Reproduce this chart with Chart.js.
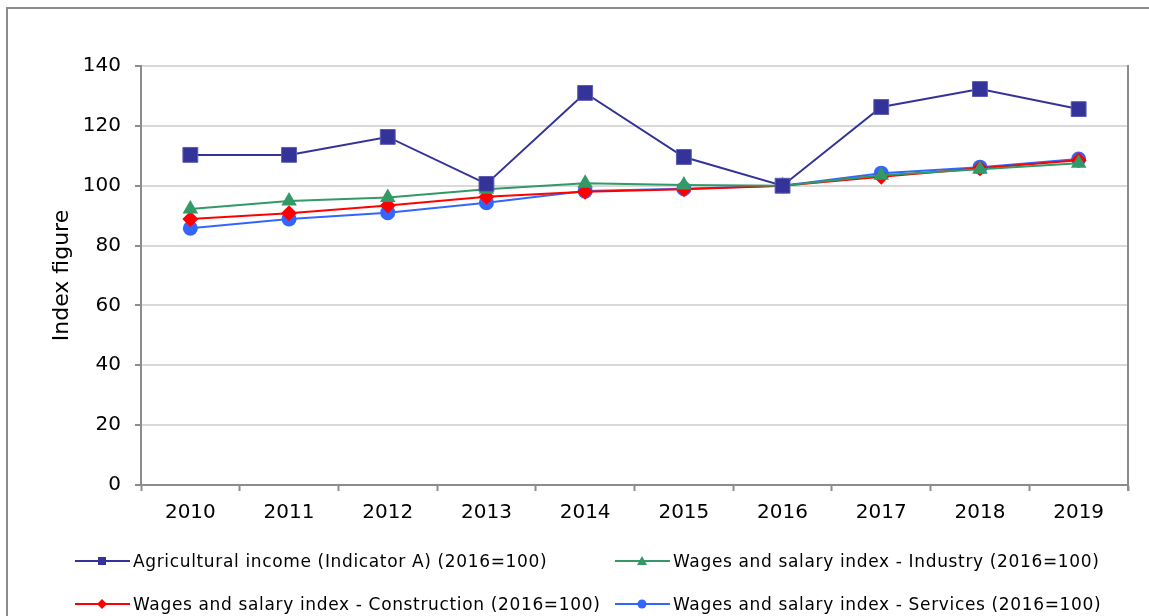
<!DOCTYPE html>
<html>
<head>
<meta charset="utf-8">
<script src="https://cdn.jsdelivr.net/npm/chart.js@4.4.1/dist/chart.umd.min.js"></script>
<style>
  html, body { margin: 0; padding: 0; background: #fff; overflow: hidden; }
  #wrap { position: relative; width: 1149px; height: 616px; overflow: hidden; }
  #frame { position: absolute; left: 6px; top: 7px; width: 1143px; height: 609px; border-top: 2px solid #8c8c8c; border-left: 2px solid #8c8c8c; box-sizing: border-box; }
  #c { position: absolute; left: 0; top: 0; }
  .leg { position: absolute; font-family: "DejaVu Sans", Verdana, sans-serif; font-size: 17px; letter-spacing: 0.65px; color: #000; white-space: nowrap; display: flex; align-items: center; }
  .leg svg { margin-right: 3px; }
</style>
</head>
<body>
<div id="wrap">
  <div id="frame"></div>
  <canvas id="c" width="1149" height="616"></canvas>
  <div id="legend"></div>
</div>
<script>
const categories = ["2010","2011","2012","2013","2014","2015","2016","2017","2018","2019"];
const agricultural = [110.3, 110.3, 116.3, 100.6, 131.0, 109.6, 100.0, 126.3, 132.3, 125.6];
const industry     = [92.2, 94.9, 96.1, 98.8, 100.8, 100.2, 100.0, 103.5, 105.5, 107.5];
const construction = [88.9, 90.8, 93.4, 96.3, 98.0, 98.8, 100.0, 103.0, 105.8, 108.5];
const services     = [85.8, 88.9, 91.0, 94.3, 98.2, 99.0, 100.0, 104.2, 106.2, 108.9];
const yTicks = [0, 20, 40, 60, 80, 100, 120, 140];
const seriesNames = [
  "Agricultural income (Indicator A) (2016=100)",
  "Wages and salary index - Industry (2016=100)",
  "Wages and salary index - Construction (2016=100)",
  "Wages and salary index - Services (2016=100)"
];

const FONT = '"DejaVu Sans", Verdana, sans-serif';

const rightBorder = {
  id: 'rightBorder',
  afterDraw(chart) {
    const {ctx, chartArea} = chart;
    ctx.save();
    ctx.strokeStyle = '#8c8c8c';
    ctx.lineWidth = 2;
    ctx.beginPath();
    ctx.moveTo(chartArea.right, chartArea.top - 1);
    ctx.lineTo(chartArea.right, chartArea.bottom + 6);
    ctx.stroke();
    ctx.restore();
  }
};

new Chart(document.getElementById('c'), {
  type: 'line',
  data: {
    labels: categories,
    datasets: [
      { label: seriesNames[0], data: agricultural, borderColor: '#333399', backgroundColor: '#333399', borderWidth: 2,
        pointStyle: 'rect', pointRadius: 10.5, pointBorderColor: '#5c5cb0', pointBorderWidth: 1, pointHoverRadius: 10.5 },
      { label: seriesNames[1], data: industry, borderColor: '#339966', backgroundColor: '#339966', borderWidth: 2,
        pointStyle: 'triangle', pointRadius: 9, pointBorderWidth: 0, pointHoverRadius: 9 },
      { label: seriesNames[2], data: construction, borderColor: '#ff0000', backgroundColor: '#ff0000', borderWidth: 2,
        pointStyle: 'rectRot', pointRadius: 8, pointBorderWidth: 0, pointHoverRadius: 8 },
      { label: seriesNames[3], data: services, borderColor: '#3366ff', backgroundColor: '#3366ff', borderWidth: 2,
        pointStyle: 'circle', pointRadius: 7.5, pointBorderWidth: 0, pointHoverRadius: 7.5 }
    ]
  },
  options: {
    responsive: false,
    animation: false,
    events: [],
    layout: { padding: { left: 0, right: 21, top: 66, bottom: 0 } },
    plugins: { legend: { display: false }, tooltip: { enabled: false } },
    elements: { line: { tension: 0 } },
    scales: {
      x: {
        type: 'category',
        offset: true,
        grid: { offset: true, drawOnChartArea: false, drawTicks: true, tickLength: 6, tickColor: '#8c8c8c', tickWidth: 2 },
        border: { color: '#8c8c8c', width: 2 },
        ticks: { color: '#000', font: { family: FONT, size: 20 }, padding: 10, maxRotation: 0, autoSkip: false },
        afterFit(scale) { scale.height = 131; }
      },
      y: {
        min: 0, max: 140,
        afterBuildTicks(scale) { scale.ticks = yTicks.map(v => ({ value: v })); },
        grid: { color: '#d9d9d9', lineWidth: 2, drawTicks: true, tickLength: 6, tickColor: '#8c8c8c', tickWidth: 2 },
        border: { color: '#8c8c8c', width: 2 },
        ticks: { color: '#000', font: { family: FONT, size: 20 }, padding: 14 },
        title: { display: true, text: 'Index figure', color: '#000', font: { family: FONT, size: 22 }, padding: { top: 49, bottom: 0 } },
        afterFit(scale) { scale.width = 141; }
      }
    }
  },
  plugins: [rightBorder]
});

// HTML legend
const legendItems = [
  { name: seriesNames[0], color: '#333399', marker: 'square', x: 75, y: 561 },
  { name: seriesNames[1], color: '#339966', marker: 'triangle', x: 615, y: 561 },
  { name: seriesNames[2], color: '#ff0000', marker: 'diamond', x: 75, y: 604 },
  { name: seriesNames[3], color: '#3366ff', marker: 'circle', x: 615, y: 604 }
];
function markerSvg(type, color) {
  const cx = 27, cy = 8;
  let m = '';
  if (type === 'square') m = `<rect x="${cx-4}" y="${cy-4}" width="8" height="8" fill="${color}"/>`;
  if (type === 'triangle') m = `<polygon points="${cx},${cy-5} ${cx+5},${cy+4} ${cx-5},${cy+4}" fill="${color}"/>`;
  if (type === 'diamond') m = `<polygon points="${cx},${cy-5} ${cx+5},${cy} ${cx},${cy+5} ${cx-5},${cy}" fill="${color}"/>`;
  if (type === 'circle') m = `<circle cx="${cx}" cy="${cy}" r="4.5" fill="${color}"/>`;
  return `<svg width="55" height="16" viewBox="0 0 55 16"><line x1="0" y1="${cy}" x2="55" y2="${cy}" stroke="${color}" stroke-width="2"/>${m}</svg>`;
}
const legendEl = document.getElementById('legend');
legendItems.forEach(it => {
  const d = document.createElement('div');
  d.className = 'leg';
  d.style.left = it.x + 'px';
  d.style.top = (it.y - 10) + 'px';
  d.style.height = '20px';
  d.innerHTML = markerSvg(it.marker, it.color) + '<span>' + it.name + '</span>';
  legendEl.appendChild(d);
});
</script>
</body>
</html>
